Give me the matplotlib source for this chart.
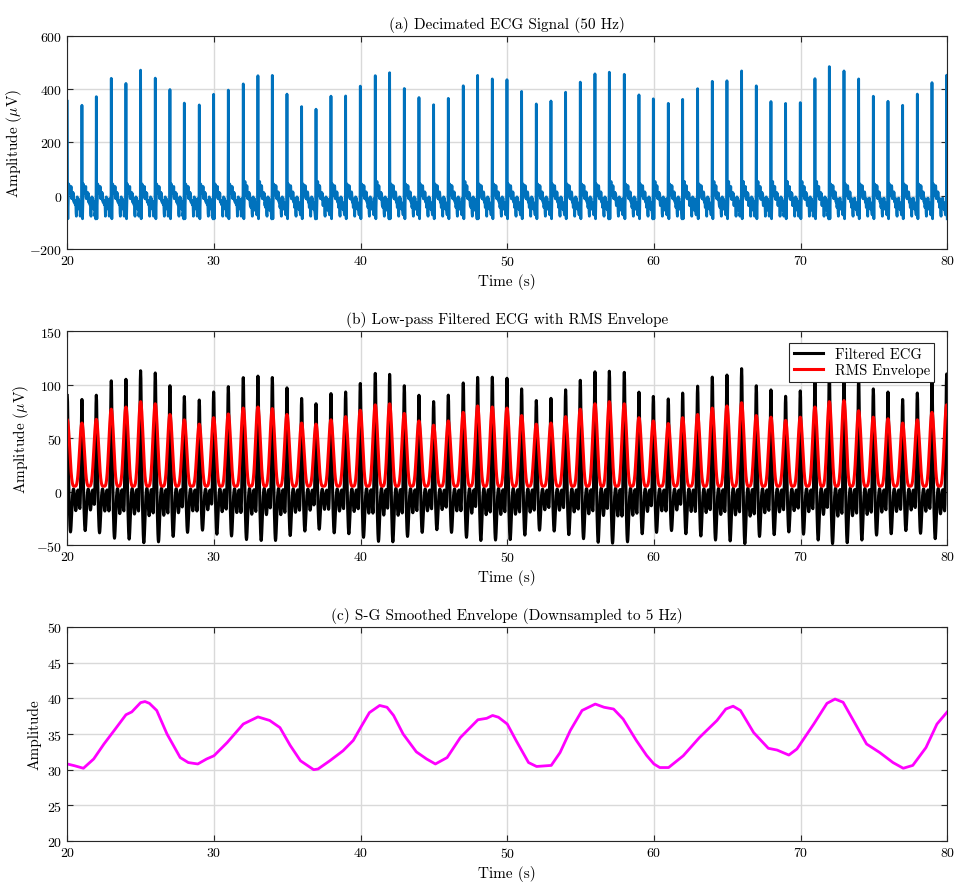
import numpy as np
import matplotlib
matplotlib.use('Agg')
import matplotlib.pyplot as plt

plt.rcParams['font.family'] = 'cmr10'
plt.rcParams['mathtext.fontset'] = 'cm'
plt.rcParams['axes.formatter.use_mathtext'] = True

# R-peak times (s)
beat_times = [20.0, 21.0, 21.98, 23.0, 24.0, 25.0, 26.0, 27.0, 27.98, 29.0,
              29.98, 30.98, 32.0, 33.0, 33.98, 34.98, 35.98, 36.96, 37.98, 38.98,
              39.98, 41.0, 41.98, 42.98, 43.98, 44.98, 45.98, 47.0, 47.98, 48.98,
              49.98, 50.98, 51.98, 52.98, 53.98, 54.98, 55.98, 56.96, 57.98, 58.98,
              59.96, 60.98, 61.96, 62.98, 63.98, 64.98, 65.98, 66.98, 67.98, 68.98,
              69.98, 70.98, 71.96, 72.96, 73.96, 74.96, 75.96, 76.96, 77.96, 78.96,
              79.96]

# (a) R-peak amplitude of decimated ECG (uV)
ecg_peaks = [367, 352, 386, 453, 434, 484, 454, 411, 362, 353,
             395, 409, 432, 463, 456, 394, 347, 339, 386, 387,
             424, 463, 466, 415, 381, 354, 378, 425, 456, 451,
             448, 404, 357, 368, 401, 439, 470, 478, 468, 391,
             378, 359, 376, 414, 442, 444, 481, 425, 366, 359,
             362, 452, 489, 481, 451, 386, 367, 352, 394, 437,
             465]

# (b) filtered ECG peaks and RMS envelope peaks (uV)
filt_peaks = [90, 87, 92, 104, 106, 114, 112, 100, 91, 86,
              95, 99, 107, 109, 109, 98, 88, 84, 92, 94,
              102, 111, 112, 100, 91, 85, 91, 102, 109, 108,
              107, 97, 86, 88, 96, 105, 113, 115, 112, 94,
              91, 87, 94, 99, 108, 110, 116, 100, 96, 90,
              95, 108, 116, 114, 108, 97, 94, 87, 93, 105,
              111]
rms_peaks = [67, 64, 67.5, 77, 79, 84, 82, 72, 67, 63,
             69, 72.5, 78, 79, 77.5, 72, 64, 63, 67, 70,
             76, 81, 82, 73, 66, 62, 66, 74, 80, 79,
             78, 71, 63, 64, 70, 77, 82, 84, 82, 69,
             66, 63.5, 69, 72, 78, 80, 83, 71, 69.5, 66.5,
             69.5, 79, 84, 85, 75.5, 69.5, 68, 64, 67, 74,
             81]
rms_floor = 5

# (c) smoothed envelope
env_t = [20.0, 20.5, 21.1, 21.8, 22.5, 23.2, 24.0, 24.4, 25.0, 25.3,
         25.6, 26.1, 26.8, 27.7, 28.25, 28.9, 29.5, 30.0, 30.9, 32.0,
         33.0, 33.8, 34.5, 35.2, 35.9, 36.8, 37.1, 37.9, 38.8, 39.5,
         40.0, 40.6, 41.3, 41.8, 42.25, 42.9, 43.8, 44.5, 45.1, 45.9,
         46.8, 48.0, 48.6, 49.0, 49.4, 50.0, 50.6, 51.45, 52.0, 53.0,
         53.6, 54.3, 55.1, 56.0, 56.6, 57.25, 57.9, 58.8, 59.5, 60.0,
         60.4, 61.0, 62.0, 63.1, 64.3, 64.9, 65.4, 65.9, 66.8, 67.8,
         68.4, 69.2, 69.75, 70.9, 71.8, 72.35, 72.9, 73.6, 74.5, 75.4,
         76.3, 77.0, 77.65, 78.55, 79.3, 80.0]
env_v = [30.8, 30.55, 30.2, 31.5, 33.6, 35.5, 37.7, 38.1, 39.4, 39.55,
         39.3, 38.3, 35.0, 31.7, 31.0, 30.8, 31.5, 31.95, 33.8, 36.4,
         37.4, 36.9, 35.9, 33.4, 31.25, 30.0, 30.1, 31.25, 32.65, 34.1,
         35.9, 38.0, 39.0, 38.75, 37.6, 35.0, 32.5, 31.5, 30.8, 31.7,
         34.5, 37.0, 37.2, 37.6, 37.35, 36.4, 34.1, 31.0, 30.45, 30.6,
         32.4, 35.5, 38.3, 39.2, 38.75, 38.5, 37.1, 34.1, 32.0, 30.8,
         30.3, 30.3, 31.95, 34.5, 36.9, 38.5, 38.9, 38.3, 35.2, 33.0,
         32.75, 32.05, 32.9, 36.4, 39.3, 39.9, 39.45, 36.9, 33.6, 32.4,
         31.0, 30.2, 30.6, 33.1, 36.4, 38.1]

# per-beat waveform shapes: (offset s, amplitude, width s)
ecg_shape = [(-0.03, -60, 0.012), (0.04, -80, 0.014), (0.12, 45, 0.03),
             (0.24, 28, 0.04), (0.38, 12, 0.04), (0.5, -30, 0.03),
             (0.62, -55, 0.03), (0.72, -12, 0.03), (0.8, -30, 0.03),
             (0.9, -70, 0.03)]
ecg_jitter = [0, 16, -12, 14, -8, 18, -14, 10, -16, 12, -6, 14, -12,
              8, -14, 16, -10, 12, -16, 8, -12, 14, -8, 10, -14]
filt_shape = [(0.0, 1.0, 0.055), (0.22, -0.42, 0.07), (0.43, 0.04, 0.055),
              (0.58, -0.2, 0.06), (0.73, 0.03, 0.055), (0.87, -0.22, 0.05)]

t = np.round(np.arange(20.0, 80.0 + 1e-9, 0.02), 2)

ecg = np.full_like(t, -8.0)
filt = np.zeros_like(t)
rms = np.full_like(t, float(rms_floor))
for tb, pa, pb, pr in zip(beat_times, ecg_peaks, filt_peaks, rms_peaks):
    d = t - tb
    ecg += pa * (np.abs(d) < 0.005)
    for c, a, s in ecg_shape:
        ecg += a * np.exp(-(d - c) ** 2 / (2 * s ** 2))
    idx = (d > 0.05) & (d < 0.98)
    k = np.round((d[idx] - 0.06) / 0.04).astype(int) % len(ecg_jitter)
    ecg[idx] += np.array(ecg_jitter)[k]
    for c, a, s in filt_shape:
        filt += pb * a * np.exp(-(d - c) ** 2 / (2 * s ** 2))
    w = np.abs(d) <= 0.5
    rms[w] += (pr - rms_floor) * np.cos(np.pi * d[w]) ** 4

grid_kw = dict(color='#d9d9d9', linewidth=1.0)

fig = plt.figure(figsize=(9.57, 8.87), dpi=100)
ax1 = fig.add_axes([0.0703, 0.7182, 0.9195, 0.2401])
ax2 = fig.add_axes([0.0703, 0.3844, 0.9195, 0.2413])
ax3 = fig.add_axes([0.0703, 0.0507, 0.9195, 0.2413])

ax1.plot(t, ecg, color='#0072BD', linewidth=2.0)
ax1.set_ylim(-200, 600)
ax1.set_yticks([-200, 0, 200, 400, 600])
ax1.set_title('(a) Decimated ECG Signal (50 Hz)', fontsize=11)
ax1.set_ylabel(r'Amplitude ($\mu$V)', fontsize=11)

ax2.plot(t, filt, color='black', linewidth=2.2, label='Filtered ECG')
ax2.plot(t, rms, color='red', linewidth=2.2, label='RMS Envelope')
ax2.set_ylim(-50, 150)
ax2.set_yticks([-50, 0, 50, 100, 150])
ax2.set_title('(b) Low-pass Filtered ECG with RMS Envelope', fontsize=11)
ax2.set_ylabel(r'Amplitude ($\mu$V)', fontsize=11)
leg = ax2.legend(loc='upper right', fontsize=10.5, fancybox=False, framealpha=1,
                 edgecolor='#262626', handlelength=2.0, borderaxespad=0.6,
                 borderpad=0.3, labelspacing=0.15, bbox_to_anchor=(0.995, 0.985))
leg.get_frame().set_linewidth(0.8)

ax3.plot(env_t, env_v, color='#FF00FF', linewidth=2.0)
ax3.set_ylim(20, 50)
ax3.set_yticks([20, 25, 30, 35, 40, 45, 50])
ax3.set_title('(c) S-G Smoothed Envelope (Downsampled to 5 Hz)', fontsize=11)
ax3.set_ylabel('Amplitude', fontsize=11)

for ax in (ax1, ax2, ax3):
    ax.set_xlim(20, 80)
    ax.set_xticks(range(20, 81, 10))
    ax.set_xlabel('Time (s)', fontsize=11)
    ax.grid(True, **grid_kw)
    ax.set_axisbelow(True)
    ax.tick_params(direction='in', top=True, right=True, labelsize=10,
                   length=4, width=0.8, color='#262626')
    for sp in ax.spines.values():
        sp.set_linewidth(0.8)
        sp.set_color('#262626')

fig.savefig('out.png', dpi=100)
